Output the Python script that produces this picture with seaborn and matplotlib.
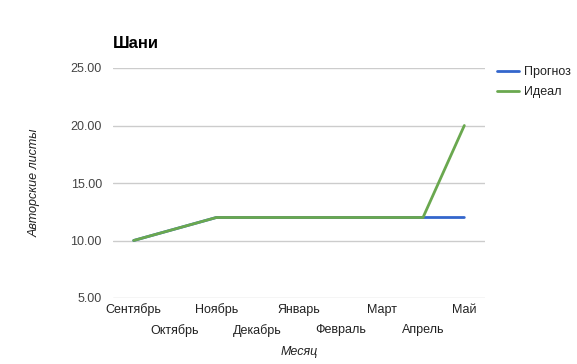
import matplotlib
matplotlib.use("Agg")
import matplotlib.pyplot as plt
import seaborn as sns
import pandas as pd
from matplotlib.lines import Line2D

months = ["Сентябрь", "Октябрь", "Ноябрь", "Декабрь", "Январь", "Февраль", "Март", "Апрель", "Май"]
forecast = [10, 11, 12, 12, 12, 12, 12, 12, 12]
ideal = [10, 11, 12, 12, 12, 12, 12, 12, 20]
yticks = [5, 10, 15, 20, 25]

sns.set_theme(style="white")
plt.rcParams['font.family'] = ['Liberation Sans', 'DejaVu Sans']

df = pd.DataFrame({
    "idx": list(range(len(months))) * 2,
    "value": forecast + ideal,
    "series": ["Прогноз"] * len(months) + ["Идеал"] * len(months),
})

fig = plt.figure(figsize=(5.77, 3.64), dpi=100)
ax = fig.add_axes([113/577, 1-298/364, (485-113)/577, (298-68)/364])

sns.lineplot(data=df, x="idx", y="value", hue="series",
             palette={"Прогноз": "#3366cc", "Идеал": "#6aa84f"},
             linewidth=2, ax=ax, legend=False)

ax.set_xlim(-0.5, len(months) - 0.5)
ax.set_ylim(5, 25)
ax.set_yticks(yticks)
ax.set_yticklabels([f"{v:.2f}" for v in yticks], fontsize=9, color="#444444")

even = [i for i in range(len(months)) if i % 2 == 0]
odd = [i for i in range(len(months)) if i % 2 == 1]
ax.set_xticks(even)
ax.set_xticklabels([months[i] for i in even], fontsize=9, color="#222222")
ax.set_xticks(odd, minor=True)
ax.set_xticklabels([months[i] for i in odd], minor=True, fontsize=9, color="#222222")
ax.tick_params(axis="both", which="both", length=0)
ax.tick_params(axis="y", pad=8)
ax.tick_params(axis="x", which="major", pad=4)
ax.tick_params(axis="x", which="minor", pad=19)
ax.grid(axis="y", color="#cccccc", linewidth=1)
ax.grid(axis="x", visible=False)
for s in ax.spines.values():
    s.set_visible(False)

ax.set_xlabel("Месяц", fontsize=9, style="italic", color="#222222", va="center")
ax.xaxis.set_label_coords(0.5, (298 - 352) / 230)
ax.set_ylabel("Авторские листы", fontsize=9, style="italic", color="#222222", va="center")
ax.yaxis.set_label_coords((35 - 113) / 372, 0.5)

fig.text(113/577, 1-43/364, "Шани", fontsize=12, fontweight="bold", color="#000000",
         ha="left", va="center")

handles = [Line2D([], [], color="#3366cc", lw=2), Line2D([], [], color="#6aa84f", lw=2)]
fig.legend(handles, ["Прогноз", "Идеал"], loc="upper left",
           bbox_to_anchor=(494/577, 1-64/364), frameon=False, fontsize=9,
           handlelength=1.8, handletextpad=0.4, labelspacing=0.6,
           labelcolor="#222222", borderaxespad=0, borderpad=0.2)

fig.savefig("out.png", dpi=100)
